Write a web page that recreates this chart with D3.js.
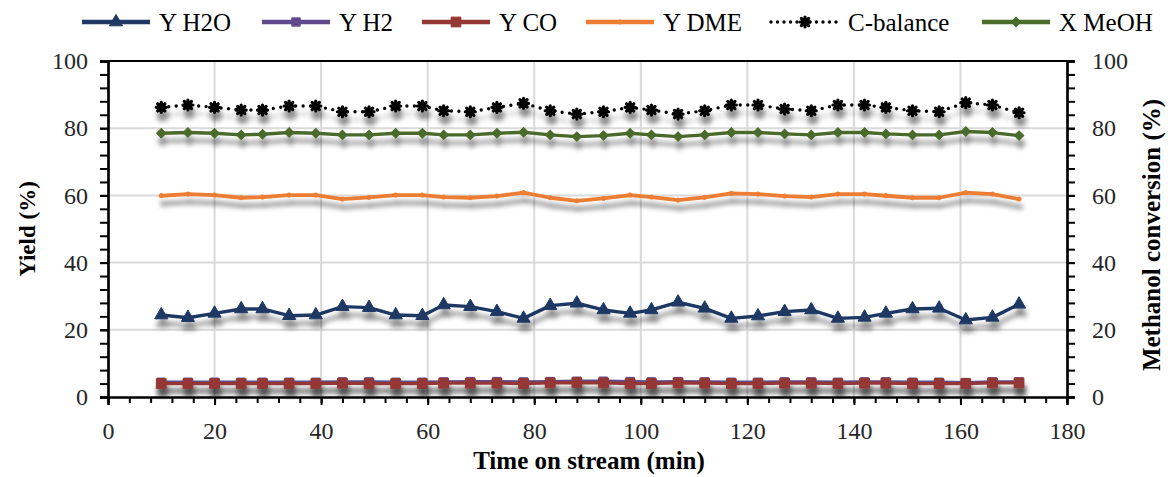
<!DOCTYPE html>
<html><head><meta charset="utf-8">
<script src="https://cdn.jsdelivr.net/npm/d3@7"></script>
<style>
body{margin:0;background:#fff}
svg{display:block}
</style>
</head><body>
<svg id="c" width="1168" height="477" font-family="Liberation Serif, Times New Roman, serif"></svg>
<script>
// ---- data ----
const time = [10,15,20,25,29,34,39,44,49,54,59,63,68,73,78,83,88,93,98,102,107,112,117,122,127,132,137,142,146,151,156,161,166,171];
const yH2O = [24.4,23.6,24.9,26.2,26.2,24.2,24.4,26.9,26.6,24.4,24.2,27.4,26.9,25.4,23.4,27.2,27.9,25.9,24.9,25.9,28.2,26.4,23.4,24.1,25.4,25.9,23.4,23.7,24.9,26.2,26.4,22.9,23.7,27.6];
const yH2  = [4.4,4.4,4.4,4.4,4.4,4.4,4.4,4.5,4.5,4.4,4.4,4.5,4.6,4.6,4.5,4.6,4.7,4.7,4.6,4.5,4.6,4.5,4.4,4.4,4.5,4.5,4.4,4.5,4.5,4.4,4.4,4.3,4.5,4.5];
const yCO  = [4.0,4.0,4.0,4.0,4.0,4.0,4.0,4.1,4.0,4.0,4.0,4.1,4.1,4.1,4.0,4.2,4.3,4.2,4.0,4.0,4.2,4.1,4.0,4.0,4.1,4.1,4.0,4.1,4.1,4.0,4.0,4.0,4.2,4.2];
const yDME = [59.9,60.4,60.1,59.3,59.5,60.1,60.1,58.9,59.4,60.1,60.1,59.5,59.3,59.8,60.8,59.3,58.4,59.1,60.1,59.5,58.6,59.4,60.6,60.4,59.8,59.5,60.4,60.4,59.9,59.3,59.3,60.8,60.4,58.9];
const cBal = [86.2,86.9,86.2,85.4,85.4,86.6,86.6,84.9,84.9,86.6,86.6,85.2,84.9,86.2,87.4,85.2,84.2,84.9,86.2,85.4,84.2,85.2,86.9,86.9,85.7,85.2,86.9,86.9,86.2,85.2,84.9,87.6,86.9,84.6];
const xMeOH= [78.5,78.7,78.5,78.0,78.2,78.7,78.5,78.0,78.0,78.5,78.5,78.0,78.0,78.5,78.8,78.0,77.5,77.8,78.5,78.0,77.5,78.0,78.7,78.7,78.3,78.0,78.7,78.7,78.3,78.0,78.0,79.0,78.7,77.8];
const xTicks = [0,20,40,60,80,100,120,140,160,180];
const yTicks = [0,20,40,60,80,100];
const seriesNames = ["Y H2O","Y H2","Y CO","Y DME","C-balance","X MeOH"];

// ---- layout ----
const FONT = "Liberation Serif, Times New Roman, serif";
const svg = d3.select("#c");
const L = 108, R = 1067, T = 61, B = 397;
const x = d3.scaleLinear().domain([0,180]).range([L,R]);
const y = d3.scaleLinear().domain([0,100]).range([B,T]);

const defs = svg.append("defs");
const f = defs.append("filter").attr("id","sh").attr("x","-10%").attr("y","-50%").attr("width","120%").attr("height","250%");
f.append("feDropShadow").attr("dx",1.5).attr("dy",8).attr("stdDeviation",2.8).attr("flood-color","#000").attr("flood-opacity",0.45);

// gridlines
const grid = svg.append("g");
grid.selectAll("line.v").data(xTicks.filter(d=>d>0&&d<180)).join("line")
  .attr("x1",d=>x(d)).attr("x2",d=>x(d)).attr("y1",T).attr("y2",B)
  .attr("stroke","#d9d9d9").attr("stroke-width",2);
grid.selectAll("line.h").data(yTicks.filter(d=>d>0&&d<100)).join("line")
  .attr("x1",L).attr("x2",R).attr("y1",d=>y(d)).attr("y2",d=>y(d))
  .attr("stroke","#d9d9d9").attr("stroke-width",2);

// axes
const minorY = d3.range(0,101,4);
const minorX = d3.range(0,181,4);
const fs = 24;
const gL = svg.append("g").attr("transform",`translate(${L},0)`)
  .call(d3.axisLeft(y).tickValues(minorY).tickSize(8).tickFormat(""));
const gLl = svg.append("g").attr("transform",`translate(${L},0)`)
  .call(d3.axisLeft(y).tickValues(yTicks).tickSize(8).tickPadding(12));
const gR = svg.append("g").attr("transform",`translate(${R},0)`)
  .call(d3.axisRight(y).tickValues(minorY).tickSize(8).tickFormat(""));
const gRl = svg.append("g").attr("transform",`translate(${R},0)`)
  .call(d3.axisRight(y).tickValues(yTicks).tickSize(8).tickPadding(17));
const gB = svg.append("g").attr("transform",`translate(0,${B})`)
  .call(d3.axisBottom(x).tickValues(minorX).tickSize(6).tickFormat(""));
const gBl = svg.append("g").attr("transform",`translate(0,${B})`)
  .call(d3.axisBottom(x).tickValues(xTicks).tickSize(8).tickPadding(15));
[gL,gLl,gR,gRl,gB,gBl].forEach(g=>{
  g.attr("font-family",FONT).attr("font-size",fs);
  g.select(".domain").attr("stroke","#000").attr("stroke-width",2.2);
  g.selectAll(".tick line").attr("stroke","#000").attr("stroke-width",2);
  g.selectAll("text").attr("fill","#262626");
});
gBl.selectAll("text").attr("dy","0.8em");
// top frame
svg.append("line").attr("x1",L).attr("x2",R).attr("y1",T).attr("y2",T).attr("stroke","#000").attr("stroke-width",2.2);

// axis titles
const titleStyle = (t,s) => t.attr("font-family",FONT).attr("font-size",s).attr("font-weight","bold").attr("fill","#000");
svg.append("text").attr("x",589).attr("y",469).attr("text-anchor","middle").call(titleStyle,25).text("Time on stream (min)");
svg.append("text").attr("transform",`translate(35,${(T+B)/2}) rotate(-90)`).attr("text-anchor","middle").call(titleStyle,23).text("Yield (%)");
svg.append("text").attr("transform",`translate(1160,235) rotate(-90)`).attr("text-anchor","middle").call(titleStyle,25).text("Methanol conversion (%)");

// markers
const asterisk = "M-5,0L5,0M0,-5L0,5M-3.6,-3.6L3.6,3.6M-3.6,3.6L3.6,-3.6";
const sym = {
  tri: d3.symbol().type(d3.symbolTriangle).size(75)(),
  sq: d3.symbol().type(d3.symbolSquare).size(95)(),
  sqs: d3.symbol().type(d3.symbolSquare).size(70)(),
  star: asterisk,
  dia: d3.symbol().type(d3.symbolSquare).size(45)(),
  dot: d3.symbol().type(d3.symbolCircle).size(14)()
};
const series = [
  {name:seriesNames[0], vals:yH2O, color:"#1f3864", marker:"tri", dash:null, w:3.4},
  {name:seriesNames[1], vals:yH2,  color:"#604a8c", marker:"sqs", dash:null, w:3.2},
  {name:seriesNames[2], vals:yCO,  color:"#953735", marker:"sq", dash:null, w:3.2},
  {name:seriesNames[3], vals:yDME, color:"#ed7d31", marker:"dot", dash:null, w:3.8},
  {name:seriesNames[4], vals:cBal, color:"#000000", marker:"star", dash:"0,7.5", w:3.4},
  {name:seriesNames[5], vals:xMeOH,color:"#4a6b2a", marker:"dia", dash:null, w:3.4}
];
const line = d3.line().x(d=>x(d[0])).y(d=>y(d[1]));
function drawMarker(sel, s){
  if(s.marker==="star"){
    sel.attr("d",sym.star).attr("fill","none").attr("stroke","#000").attr("stroke-width",3.2).attr("stroke-linecap","round");
  } else {
    sel.attr("d",sym[s.marker]).attr("fill",s.color).attr("stroke",s.color).attr("stroke-width",1);
  }
}
series.forEach(s=>{
  const pts = time.map((t,i)=>[t,s.vals[i]]);
  const g = svg.append("g").attr("filter","url(#sh)");
  g.append("path").attr("d",line(pts)).attr("fill","none").attr("stroke",s.color)
    .attr("stroke-width",s.w).attr("stroke-linecap",s.dash?"round":"butt").attr("stroke-linejoin","round")
    .attr("stroke-dasharray",s.dash);
  g.selectAll("path.m").data(pts).join("path").attr("class","m")
    .attr("transform",d=>`translate(${x(d[0])},${y(d[1])})${s.marker==="dia"?" rotate(45)":""}`)
    .call(drawMarker, s);
});

// legend
const legX = [82,262,422,586,771,982];
const lg = svg.append("g");
series.forEach((s,i)=>{
  const gx = legX[i], gy = 22;
  lg.append("line").attr("x1",gx).attr("x2",gx+68).attr("y1",gy).attr("y2",gy)
    .attr("stroke",s.color).attr("stroke-width",s.dash?3.4:4.5)
    .attr("stroke-linecap",s.dash?"round":"butt").attr("stroke-dasharray",s.dash?"0,6.5":null);
  lg.append("path").attr("transform",`translate(${gx+34},${gy})${s.marker==="dia"?" rotate(45)":""}`)
    .call(drawMarker, s);
  lg.append("text").attr("x",gx+77).attr("y",gy).attr("dy","0.35em")
    .attr("font-family",FONT).attr("font-size",25).attr("fill","#000").text(s.name);
});
</script>
</body></html>
